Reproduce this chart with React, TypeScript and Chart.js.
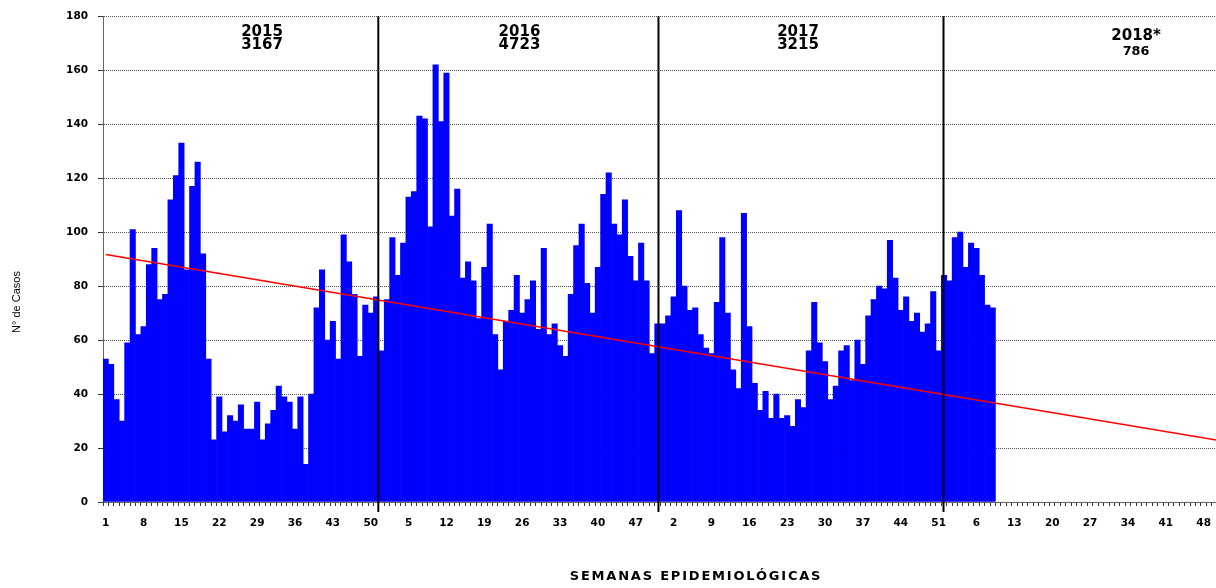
import { useEffect, useRef } from 'react';
import { Chart, registerables } from 'chart.js';

Chart.register(...registerables);

// ---- Data ----
const years = ['2015', '2016', '2017', '2018'];
const weeksPerYear = 52;

const cases2015 = [53, 51, 38, 30, 59, 101, 62, 65, 88, 94, 75, 77, 112, 121, 133, 86, 117, 126, 92, 53, 23, 39, 26, 32, 30, 36, 27, 27, 37, 23, 29, 34, 43, 39, 37, 27, 39, 14, 40, 72, 86, 60, 67, 53, 99, 89, 77, 54, 73, 70, 76, 56];
const cases2016 = [75, 98, 84, 96, 113, 115, 143, 142, 102, 162, 141, 159, 106, 116, 83, 89, 82, 68, 87, 103, 62, 49, 67, 71, 84, 70, 75, 82, 64, 94, 62, 66, 58, 54, 77, 95, 103, 81, 70, 87, 114, 122, 103, 99, 112, 91, 82, 96, 82, 55, 66, 66];
const cases2017 = [69, 76, 108, 80, 71, 72, 62, 57, 55, 74, 98, 70, 49, 42, 107, 65, 44, 34, 41, 31, 40, 31, 32, 28, 38, 35, 56, 74, 59, 52, 38, 43, 56, 58, 45, 60, 51, 69, 75, 80, 79, 97, 83, 71, 76, 67, 70, 63, 66, 78, 56, 84];
const cases2018 = [82, 98, 100, 87, 96, 94, 84, 73, 72];

const yearTitles = ['2015', '2016', '2017', '2018*'];
const yearTotals = ['3167', '4723', '3215', '786'];

// trend line end values
const trendStart = 91.7;
const trendEnd = 22.4;

const yMin = 0;
const yMax = 180;
const yStep = 20;
const labelEvery = 7;

const xTitle = 'SEMANAS EPIDEMIOLÓGICAS';
const yTitle = 'N° de Casos';

// ---- Derived tables ----
const weekLabels: string[] = years.flatMap(() =>
  Array.from({ length: weeksPerYear }, (_, i) => String(i + 1))
);
const barValues: (number | null)[] = [...cases2015, ...cases2016, ...cases2017, ...cases2018];
while (barValues.length < weekLabels.length) barValues.push(null);
const trendValues: (number | null)[] = weekLabels.map(() => null);
trendValues[0] = trendStart;
trendValues[trendValues.length - 1] = trendEnd;

// ---- Layout / style (not data) ----
const CANVAS_W = 1230;
const CANVAS_H = 588;
const dividerAt = [50.4, 102.2, 154.9]; // category positions of year dividers
const yearLabelAt = [
  { x: 28.9, y1: 174.2, y2: 169.2, f1: 15, f2: 15 },
  { x: 76.5, y1: 174.2, y2: 169.2, f1: 15, f2: 15 },
  { x: 128.0, y1: 174.2, y2: 169.2, f1: 15, f2: 15 },
  { x: 190.5, y1: 172.7, y2: 167.0, f1: 15, f2: 12.8 },
];
const NUM_FONT = '"DejaVu Sans"';

const overlayPlugin = {
  id: 'overlay',
  afterDatasetsDraw(chart: any) {
    const { ctx, chartArea, scales } = chart;
    const x = scales.x;
    const y = scales.y;
    ctx.save();
    // year dividers
    ctx.strokeStyle = '#000';
    ctx.lineWidth = 2;
    dividerAt.forEach((v) => {
      const px = x.getPixelForValue(v);
      ctx.beginPath();
      ctx.moveTo(px, chartArea.top);
      ctx.lineTo(px, chartArea.bottom + 10);
      ctx.stroke();
    });
    // year annotations
    ctx.fillStyle = '#000';
    ctx.textAlign = 'center';
    ctx.textBaseline = 'middle';
    yearLabelAt.forEach((p, i) => {
      const px = x.getPixelForValue(p.x);
      ctx.font = `bold ${p.f1}px ${NUM_FONT}`;
      ctx.fillText(yearTitles[i], px, y.getPixelForValue(p.y1));
      ctx.font = `bold ${p.f2}px ${NUM_FONT}`;
      ctx.fillText(yearTotals[i], px, y.getPixelForValue(p.y2));
    });
    ctx.restore();
  },
  afterDraw(chart: any) {
    const { ctx } = chart;
    ctx.save();
    ctx.fillStyle = '#000';
    ctx.textAlign = 'center';
    ctx.textBaseline = 'middle';
    // x title
    ctx.font = `bold 13px ${NUM_FONT}`;
    if ('letterSpacing' in ctx) (ctx as any).letterSpacing = '1.8px';
    ctx.fillText(xTitle, 696, 577);
    if ('letterSpacing' in ctx) (ctx as any).letterSpacing = '0px';
    // y title
    ctx.translate(17, 302);
    ctx.rotate(-Math.PI / 2);
    ctx.font = '11px "Liberation Sans"';
    ctx.fillText(yTitle, 0, 0);
    ctx.restore();
  },
};

export default function App() {
  const canvasRef = useRef<HTMLCanvasElement | null>(null);

  useEffect(() => {
    const canvas = canvasRef.current;
    if (!canvas) return;
    const chart = new Chart(canvas, {
      type: 'bar',
      data: {
        labels: weekLabels,
        datasets: [
          {
            type: 'line',
            data: trendValues,
            borderColor: '#FF0000',
            borderWidth: 1.6,
            pointRadius: 0,
            spanGaps: true,
            fill: false,
            order: 0,
          } as any,
          {
            type: 'bar',
            data: barValues,
            backgroundColor: '#0000FF',
            borderWidth: 0,
            barPercentage: 1,
            categoryPercentage: 1,
            order: 1,
          },
        ],
      },
      options: {
        responsive: false,
        animation: false,
        devicePixelRatio: 1,
        layout: { padding: { top: 14, right: 2, bottom: 0, left: 0 } },
        plugins: {
          legend: { display: false },
          tooltip: { enabled: false },
        },
        scales: {
          x: {
            offset: true,
            afterFit: (s: any) => {
              s.height = 86;
              s.paddingLeft = 0;
              s.paddingRight = 0;
            },
            grid: {
              offset: true,
              drawOnChartArea: false,
              drawTicks: true,
              tickLength: 4,
              tickColor: '#333',
            },
            border: { display: true, color: '#666', width: 1 },
            ticks: {
              autoSkip: false,
              maxRotation: 0,
              minRotation: 0,
              padding: 11,
              color: '#000',
              font: { family: NUM_FONT, size: 10.5, weight: 'bold' },
              callback: (_v: any, i: number) => (i % labelEvery === 0 ? weekLabels[i] : ''),
            },
          },
          y: {
            min: yMin,
            max: yMax,
            afterFit: (s: any) => {
              s.width = 103;
            },
            grid: {
              color: '#505050',
              lineWidth: 1,
              drawTicks: true,
              tickLength: 5,
              tickColor: '#333',
            },
            border: { display: true, color: '#666', width: 1, dash: [1, 1] },
            ticks: {
              stepSize: yStep,
              padding: 10,
              color: '#000',
              font: { family: NUM_FONT, size: 10.5, weight: 'bold' },
            },
          },
        },
      },
      plugins: [overlayPlugin],
    });
    return () => chart.destroy();
  }, []);

  return (
    <div
      style={{
        position: 'fixed',
        left: 0,
        top: 0,
        width: 1216,
        height: 588,
        overflow: 'hidden',
        background: '#fff',
      }}
    >
      <canvas ref={canvasRef} width={CANVAS_W} height={CANVAS_H} style={{ display: 'block' }} />
    </div>
  );
}
